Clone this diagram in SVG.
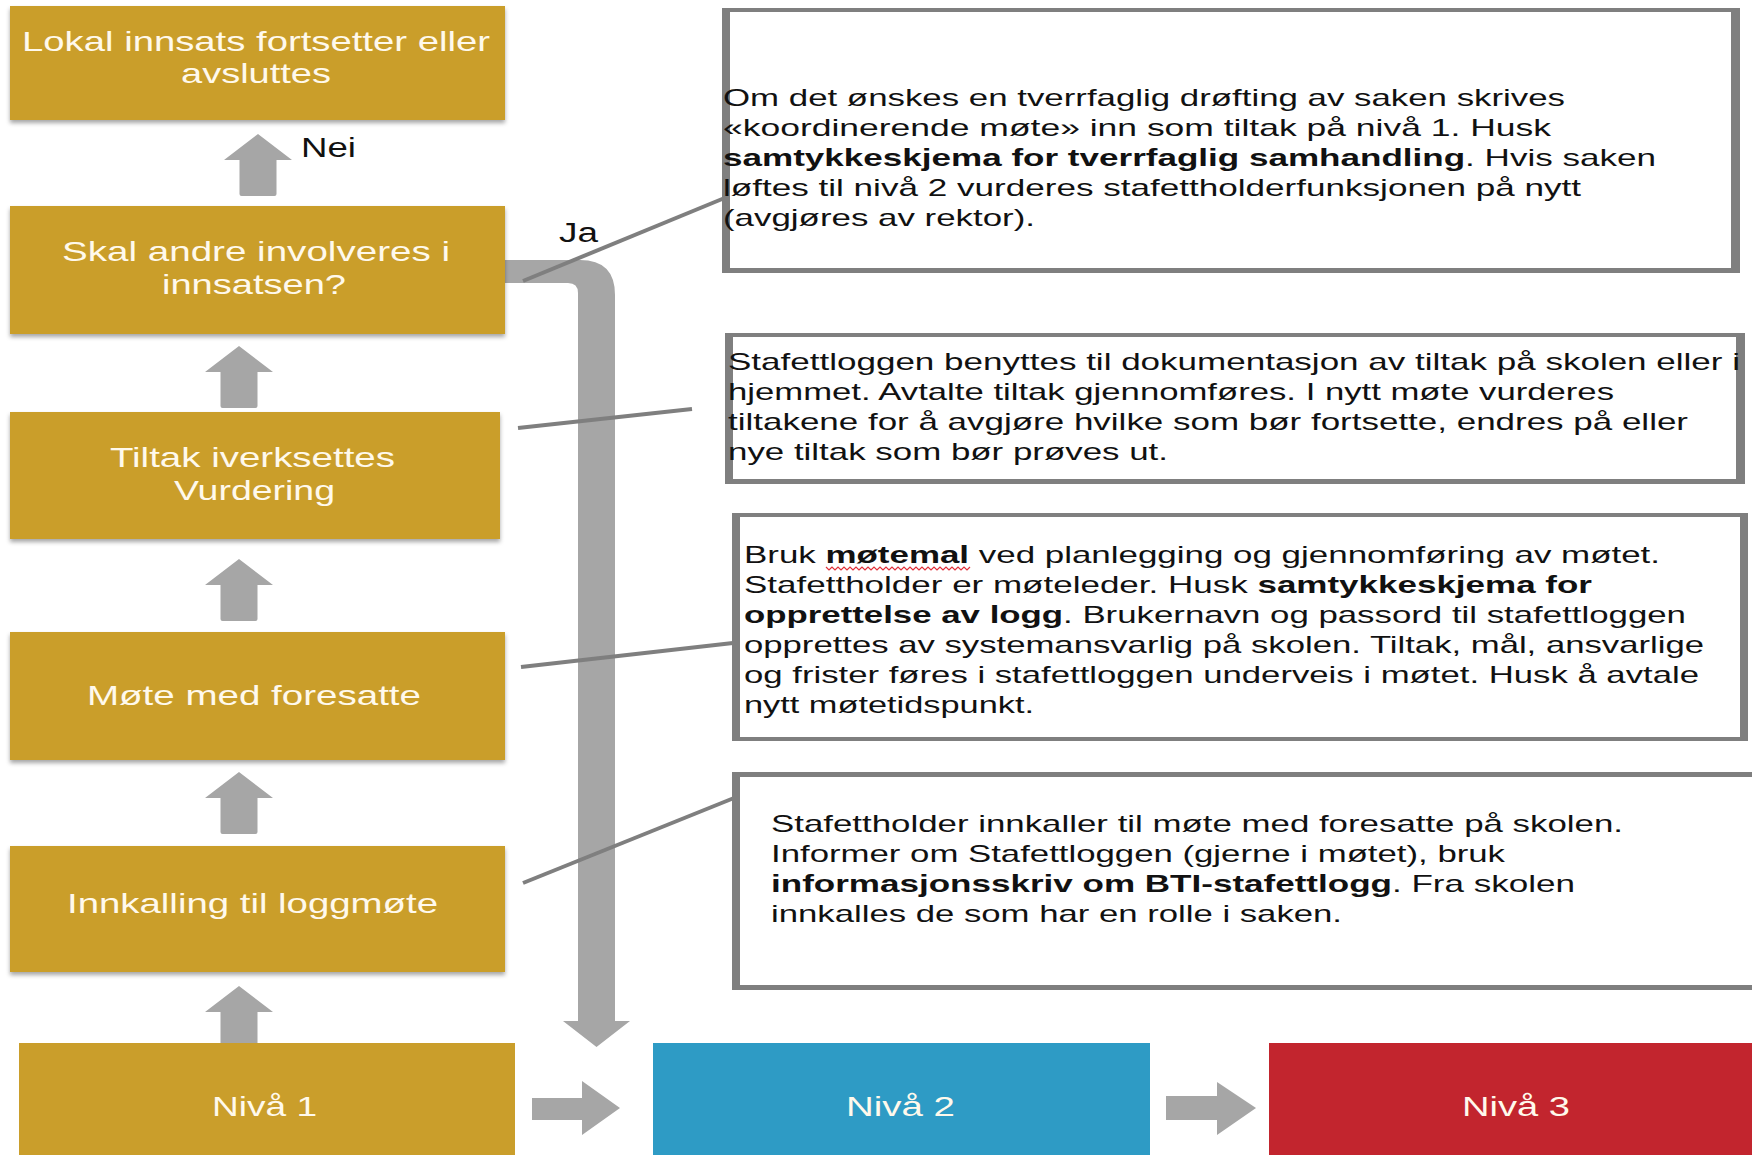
<svg xmlns="http://www.w3.org/2000/svg" width="1752" height="1155" viewBox="0 0 1752 1155">
<defs>
<filter id="sh" x="-5%" y="-10%" width="110%" height="130%">
<feDropShadow dx="0" dy="3" stdDeviation="2" flood-color="#000" flood-opacity="0.35"/>
</filter>
<path id="up" d="M0 0 L34 26 H18.5 V60 Q18.5 62 16.5 62 H-16.5 Q-18.5 62 -18.5 60 V26 H-34 Z"/>
</defs>
<style>
.gold{fill:#CA9E2B;filter:url(#sh)}
.lvl{fill:#CA9E2B}
.blue{fill:#2E9BC5}
.red{fill:#C2252E}
.lbl{font-family:"Liberation Sans",Arial,sans-serif;font-size:28px;fill:#FFF9EC}
.body{font-family:"Liberation Sans",Arial,sans-serif;font-size:24px;fill:#111}
.tag{font-family:"Liberation Sans",Arial,sans-serif;font-size:27px;fill:#111}
.b{font-weight:bold}
.arrow{fill:#A6A6A6}
.callout{stroke:#7F7F7F;stroke-width:4;fill:none}
.frame{fill:#7F7F7F}
.inner{fill:#FFFFFF}
</style>
<rect width="1752" height="1155" fill="#FFFFFF"/>

<g id="connectors">
<use href="#up" class="arrow" x="258" y="134"/>
<use href="#up" class="arrow" x="239" y="346"/>
<use href="#up" class="arrow" x="239" y="559"/>
<use href="#up" class="arrow" x="239" y="772"/>
<use href="#up" class="arrow" x="239" y="986"/>
<path class="arrow" d="M505 260 H580 Q615 260 615 295 V1021 H630 L596.5 1047 L563 1021 H578 V293 Q578 283 568 283 H505 Z"/>
<path class="arrow" d="M532 1098 H582 V1081 L620 1108 L582 1135 V1120 H532 Z"/>
<path class="arrow" d="M1166 1096 H1217 V1082 L1256 1108 L1217 1135 V1120 H1166 Z"/>
<text class="tag" x="301" y="157" textLength="55" lengthAdjust="spacingAndGlyphs">Nei</text>
<text class="tag" x="559" y="242" textLength="39" lengthAdjust="spacingAndGlyphs">Ja</text>
</g>

<g id="node-lokal">
<rect class="gold" x="10" y="6" width="495" height="114"/>
<text class="lbl" x="22" y="51" textLength="468" lengthAdjust="spacingAndGlyphs">Lokal innsats fortsetter eller</text>
<text class="lbl" x="181" y="83" textLength="150" lengthAdjust="spacingAndGlyphs">avsluttes</text>
</g>
<g id="node-skal">
<rect class="gold" x="10" y="206" width="495" height="128"/>
<text class="lbl" x="62" y="261" textLength="388" lengthAdjust="spacingAndGlyphs">Skal andre involveres i</text>
<text class="lbl" x="162" y="294" textLength="184" lengthAdjust="spacingAndGlyphs">innsatsen?</text>
</g>
<g id="node-tiltak">
<rect class="gold" x="10" y="412" width="490" height="127"/>
<text class="lbl" x="110" y="467" textLength="285" lengthAdjust="spacingAndGlyphs">Tiltak iverksettes</text>
<text class="lbl" x="174" y="500" textLength="161" lengthAdjust="spacingAndGlyphs">Vurdering</text>
</g>
<g id="node-mote">
<rect class="gold" x="10" y="632" width="495" height="128"/>
<text class="lbl" x="87" y="705" textLength="334" lengthAdjust="spacingAndGlyphs">Møte med foresatte</text>
</g>
<g id="node-innkalling">
<rect class="gold" x="10" y="846" width="495" height="126"/>
<text class="lbl" x="67" y="913" textLength="371" lengthAdjust="spacingAndGlyphs">Innkalling til loggmøte</text>
</g>
<g id="node-niva1">
<rect class="lvl" x="19" y="1043" width="496" height="112"/>
<text class="lbl" x="212" y="1116" font-size="27" textLength="105" lengthAdjust="spacingAndGlyphs">Nivå 1</text>
</g>
<g id="node-niva2">
<rect class="blue" x="653" y="1043" width="497" height="112"/>
<text class="lbl" x="846" y="1116" font-size="27" textLength="109" lengthAdjust="spacingAndGlyphs">Nivå 2</text>
</g>
<g id="node-niva3">
<rect class="red" x="1269" y="1043" width="483" height="112"/>
<text class="lbl" x="1462" y="1116" font-size="27" textLength="108" lengthAdjust="spacingAndGlyphs">Nivå 3</text>
</g>

<g id="callout-lines">
<line class="callout" x1="523" y1="281" x2="727" y2="197"/>
<line class="callout" x1="518" y1="428" x2="692" y2="409"/>
<line class="callout" x1="521" y1="667" x2="733" y2="643"/>
<line class="callout" x1="523" y1="883" x2="734" y2="798"/>
</g>

<g id="note-koordinerende">
<rect class="frame" x="722" y="8" width="1018" height="265"/>
<rect class="inner" x="730" y="12" width="1001" height="256"/>
<text class="body" x="723" y="106" textLength="842" lengthAdjust="spacingAndGlyphs">Om det ønskes en tverrfaglig drøfting av saken skrives</text>
<text class="body" x="723" y="136" textLength="828" lengthAdjust="spacingAndGlyphs">«koordinerende møte» inn som tiltak på nivå 1. Husk</text>
<text class="body" x="723" y="166" textLength="933" lengthAdjust="spacingAndGlyphs"><tspan class="b">samtykkeskjema for tverrfaglig samhandling</tspan>. Hvis saken</text>
<text class="body" x="723" y="196" textLength="858" lengthAdjust="spacingAndGlyphs">løftes til nivå 2 vurderes stafettholderfunksjonen på nytt</text>
<text class="body" x="723" y="226" textLength="312" lengthAdjust="spacingAndGlyphs">(avgjøres av rektor).</text>
</g>

<g id="note-stafettloggen">
<rect class="frame" x="725" y="333" width="1020" height="151"/>
<rect class="inner" x="733" y="337" width="1003" height="142"/>
<text class="body" x="728" y="370" textLength="1012" lengthAdjust="spacingAndGlyphs">Stafettloggen benyttes til dokumentasjon av tiltak på skolen eller i</text>
<text class="body" x="728" y="400" textLength="886" lengthAdjust="spacingAndGlyphs">hjemmet. Avtalte tiltak gjennomføres. I nytt møte vurderes</text>
<text class="body" x="728" y="430" textLength="960" lengthAdjust="spacingAndGlyphs">tiltakene for å avgjøre hvilke som bør fortsette, endres på eller</text>
<text class="body" x="728" y="460" textLength="440" lengthAdjust="spacingAndGlyphs">nye tiltak som bør prøves ut.</text>
</g>

<g id="note-motemal">
<rect class="frame" x="732" y="513" width="1016" height="228"/>
<rect class="inner" x="740" y="517" width="1000" height="220"/>
<text class="body" x="744" y="563" textLength="916" lengthAdjust="spacingAndGlyphs">Bruk <tspan class="b">møtemal</tspan> ved planlegging og gjennomføring av møtet.</text>
<polyline points="826,567 829,570 832,567 835,570 838,567 841,570 844,567 847,570 850,567 853,570 856,567 859,570 862,567 865,570 868,567 871,570 874,567 877,570 880,567 883,570 886,567 889,570 892,567 895,570 898,567 901,570 904,567 907,570 910,567 913,570 916,567 919,570 922,567 925,570 928,567 931,570 934,567 937,570 940,567 943,570 946,567 949,570 952,567 955,570 958,567 961,570 964,567 967,570 970,567" fill="none" stroke="#E0303A" stroke-width="1.2"/>
<text class="body" x="744" y="593" textLength="848" lengthAdjust="spacingAndGlyphs">Stafettholder er møteleder. Husk <tspan class="b">samtykkeskjema for</tspan></text>
<text class="body" x="744" y="623" textLength="942" lengthAdjust="spacingAndGlyphs"><tspan class="b">opprettelse av logg</tspan>. Brukernavn og passord til stafettloggen</text>
<text class="body" x="744" y="653" textLength="960" lengthAdjust="spacingAndGlyphs">opprettes av systemansvarlig på skolen. Tiltak, mål, ansvarlige</text>
<text class="body" x="744" y="683" textLength="955" lengthAdjust="spacingAndGlyphs">og frister føres i stafettloggen underveis i møtet. Husk å avtale</text>
<text class="body" x="744" y="713" textLength="290" lengthAdjust="spacingAndGlyphs">nytt møtetidspunkt.</text>
</g>

<g id="note-innkalling">
<rect class="frame" x="732" y="772" width="1030" height="218"/>
<rect class="inner" x="740" y="777" width="1022" height="208"/>
<text class="body" x="771" y="832" textLength="852" lengthAdjust="spacingAndGlyphs">Stafettholder innkaller til møte med foresatte på skolen.</text>
<text class="body" x="771" y="862" textLength="734" lengthAdjust="spacingAndGlyphs">Informer om Stafettloggen (gjerne i møtet), bruk</text>
<text class="body" x="771" y="892" textLength="804" lengthAdjust="spacingAndGlyphs"><tspan class="b">informasjonsskriv om BTI-stafettlogg</tspan>. Fra skolen</text>
<text class="body" x="771" y="922" textLength="571" lengthAdjust="spacingAndGlyphs">innkalles de som har en rolle i saken.</text>
</g>
</svg>
